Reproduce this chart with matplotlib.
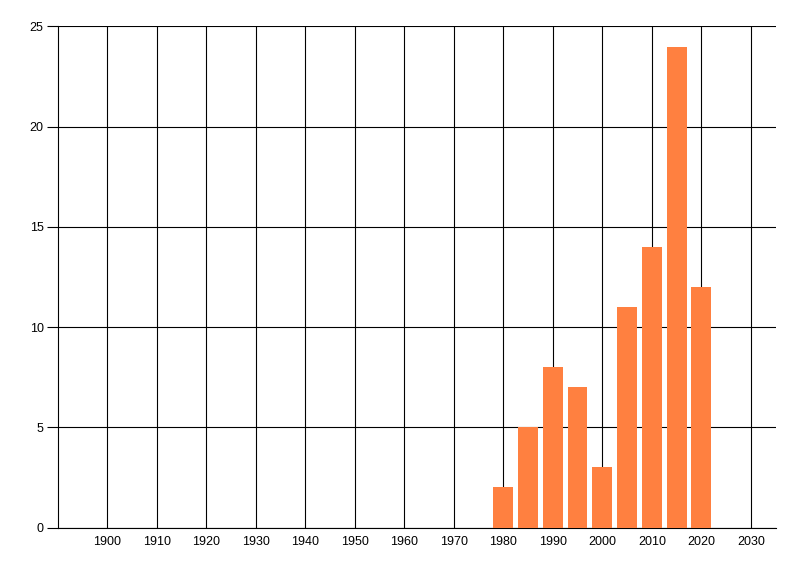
import matplotlib
matplotlib.use('Agg')
import matplotlib.pyplot as plt

years = [1980, 1985, 1990, 1995, 2000, 2005, 2010, 2015, 2020]
counts = [2, 5, 8, 7, 3, 11, 14, 24, 12]
xticks = list(range(1900, 2031, 10))
yticks = [0, 5, 10, 15, 20, 25]

plt.rcParams['font.family'] = ['Liberation Sans', 'DejaVu Sans']

fig = plt.figure(figsize=(8, 5.76), dpi=100)
ax = fig.add_axes([0.0719, 0.0842, 0.8977, 0.8698])

ax.set_axisbelow(True)
ax.grid(True, color='black', linewidth=0.8)
ax.bar(years, counts, width=4, color='#FF8040', zorder=3)

ax.set_xlim(1890, 2035)
ax.set_ylim(0, 25)
ax.set_xticks(xticks)
ax.set_yticks(yticks)
ax.tick_params(axis='x', length=0, pad=6, labelsize=9)
ax.tick_params(axis='y', length=8, width=0.8, pad=2, labelsize=9)

for s in ['top', 'right']:
    ax.spines[s].set_visible(False)
for s in ['left', 'bottom']:
    ax.spines[s].set_linewidth(0.8)

fig.savefig('out.png', dpi=100)
